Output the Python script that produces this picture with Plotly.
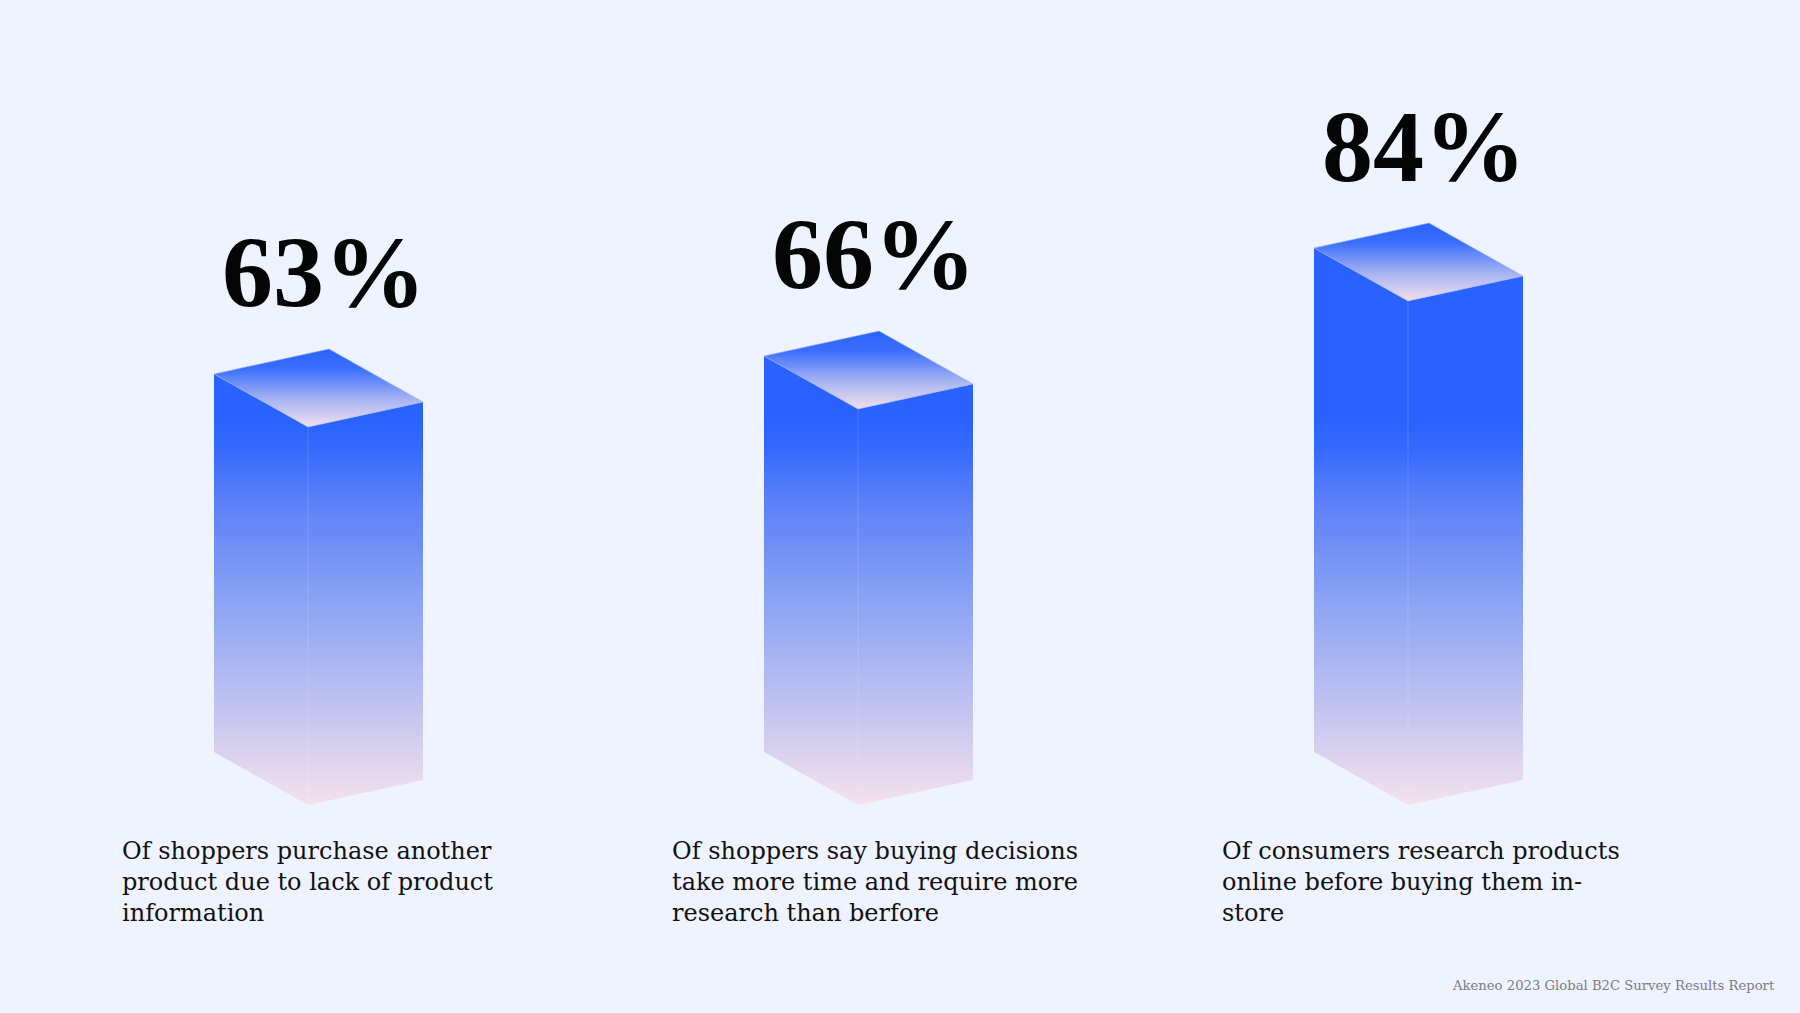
import plotly.graph_objects as go

# ---------------- data ----------------
values = [63, 66, 84]
value_labels = ["63%", "66%", "84%"]
descriptions = [
    "Of shoppers purchase another<br>product due to lack of product<br>information",
    "Of shoppers say buying decisions<br>take more time and require more<br>research than berfore",
    "Of consumers research products<br>online before buying them in-<br>store",
]
source_note = "Akeneo 2023 Global B2C Survey Results Report"

# ---------------- layout constants (pixels) ----------------
W, H = 1800, 1013
X0_PX = 308        # pixel x of first bar front edge
STEP_PX = 550      # pixel distance between bars
BASE_PX = 805      # pixel y of value 0 (front bottom vertex)
PX_PER_UNIT = 6.0  # pixels per percentage point

x_range = [-X0_PX / STEP_PX, (W - X0_PX) / STEP_PX]
y_range = [-(H - BASE_PX) / PX_PER_UNIT, BASE_PX / PX_PER_UNIT]

# isometric depth offsets (px -> data units)
dlx, dly = 94 / STEP_PX, 53 / PX_PER_UNIT
drx, dry = 115 / STEP_PX, 25 / PX_PER_UNIT

BG = "#EEF3FF"
side_scale = [[0, "#F4E2EC"], [0.27, "#BEC1F0"], [0.53, "#8AA3F4"],
              [0.79, "#5B80F8"], [0.93, "#3369FE"], [1, "#2962FF"]]
top_scale = [[0, "#F1E0EE"], [0.35, "#A8B4F2"], [0.75, "#3A6EFE"], [1, "#2962FF"]]
GRAD_STOP = (BASE_PX - 420) / PX_PER_UNIT

fig = go.Figure()

for i, v in enumerate(values):
    # left face
    fig.add_trace(go.Scatter(
        x=[i, i - dlx, i - dlx, i, i], y=[0, dly, v + dly, v, 0],
        mode="lines", fill="toself", line=dict(width=0),
        fillgradient=dict(type="vertical", colorscale=side_scale, start=0, stop=GRAD_STOP),
        hoverinfo="skip", showlegend=False))
    # right face
    fig.add_trace(go.Scatter(
        x=[i, i + drx, i + drx, i, i], y=[0, dry, v + dry, v, 0],
        mode="lines", fill="toself", line=dict(width=0),
        fillgradient=dict(type="vertical", colorscale=side_scale, start=0, stop=GRAD_STOP),
        hoverinfo="skip", showlegend=False))
    # front edge highlight
    fig.add_trace(go.Scatter(
        x=[i, i], y=[0, v], mode="lines",
        line=dict(width=1, color="rgba(255,255,255,0.15)"),
        hoverinfo="skip", showlegend=False))
    # top face
    fig.add_trace(go.Scatter(
        x=[i, i - dlx, i - dlx + drx, i + drx, i],
        y=[v, v + dly, v + dly + dry, v + dry, v],
        mode="lines", fill="toself",
        line=dict(width=1, color="rgba(150,175,255,0.6)"),
        fillgradient=dict(type="vertical", colorscale=top_scale, start=v, stop=v + dly + dry),
        hoverinfo="skip", showlegend=False))

    # big value label, centred above the back corner of the bar
    fig.add_annotation(
        x=i - dlx + drx, y=v, xref="x", yref="y",
        text="<b>" + value_labels[i] + "</b>", showarrow=False,
        xanchor="center", yanchor="middle", yshift=155, xshift=-5,
        font=dict(family="Liberation Serif", size=102, color="#050505"))

    # description
    fig.add_annotation(
        x=i - dlx, y=0, xref="x", yref="y",
        text=descriptions[i], showarrow=False, align="left",
        xanchor="left", yanchor="top", xshift=-94, yshift=-30,
        font=dict(family="DejaVu Serif", size=24, color="#111111"))

fig.add_annotation(
    x=0.987, y=0.0276, xref="paper", yref="paper",
    text=source_note, showarrow=False, xanchor="right", yanchor="middle",
    font=dict(family="DejaVu Serif", size=13.2, color="#7C7C80"))

fig.update_layout(
    width=W, height=H, autosize=False,
    margin=dict(l=0, r=0, t=0, b=0),
    paper_bgcolor=BG, plot_bgcolor=BG,
    xaxis=dict(range=x_range, visible=False, fixedrange=True),
    yaxis=dict(range=y_range, visible=False, fixedrange=True),
)

fig.write_html("out.html", config={"displayModeBar": False})
